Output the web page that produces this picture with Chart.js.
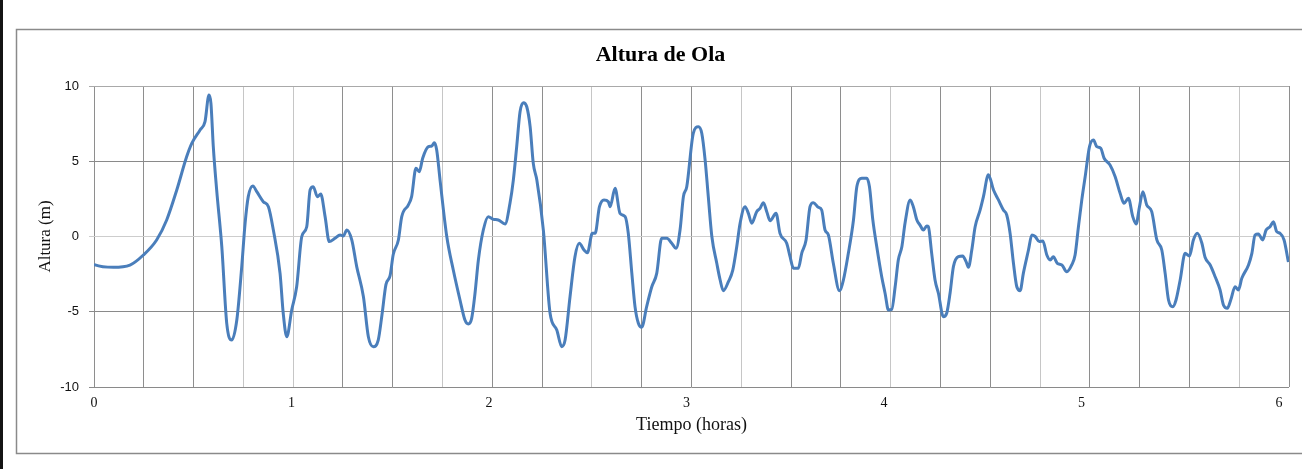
<!DOCTYPE html>
<html>
<head>
<meta charset="utf-8">
<script src="https://cdn.jsdelivr.net/npm/chart.js@4/dist/chart.umd.min.js"></script>
<style>
  html, body { margin: 0; padding: 0; background: #fff; overflow: hidden; }
</style>
</head>
<body>
<canvas id="chart" width="1302" height="469"></canvas>
<script>
const TITLE   = 'Altura de Ola';
const X_TITLE = 'Tiempo (horas)';
const Y_TITLE = 'Altura (m)';
const X_LABELS = [0, 1, 2, 3, 4, 5, 6];
const Y_TICKS  = [-10, -5, 0, 5, 10];
const X_MAX = 6.05;
const X_GRID_COUNT = 24;

// time (hours)
const HOURS = [
  0.000, 0.005, 0.098, 0.182, 0.250, 0.317, 0.368, 0.419, 0.469, 0.495, 0.537, 0.562, 0.582, 0.592, 0.604, 0.621,
  0.647, 0.672, 0.697, 0.723, 0.748, 0.765, 0.781, 0.804, 0.824, 0.857, 0.883, 0.908, 0.942, 0.958, 0.976, 1.001,
  1.026, 1.052, 1.077, 1.094, 1.110, 1.131, 1.148, 1.170, 1.191, 1.220, 1.246, 1.262, 1.280, 1.305, 1.330, 1.364,
  1.389, 1.414, 1.439, 1.458, 1.478, 1.499, 1.515, 1.541, 1.558, 1.591, 1.608, 1.630, 1.647, 1.664, 1.693, 1.710,
  1.723, 1.735, 1.752, 1.786, 1.819, 1.853, 1.878, 1.895, 1.912, 1.929, 1.946, 1.971, 1.996, 2.022, 2.047, 2.081,
  2.106, 2.123, 2.140, 2.157, 2.174, 2.191, 2.208, 2.224, 2.242, 2.275, 2.309, 2.343, 2.368, 2.385, 2.410, 2.435,
  2.457, 2.481, 2.498, 2.523, 2.537, 2.559, 2.582, 2.604, 2.613, 2.638, 2.663, 2.689, 2.705, 2.723, 2.739, 2.756,
  2.773, 2.798, 2.824, 2.849, 2.874, 2.900, 2.925, 2.947, 2.967, 2.984, 3.001, 3.034, 3.060, 3.077, 3.094, 3.110,
  3.128, 3.153, 3.170, 3.186, 3.212, 3.234, 3.254, 3.271, 3.296, 3.313, 3.330, 3.355, 3.372, 3.389, 3.406, 3.423,
  3.453, 3.473, 3.507, 3.524, 3.541, 3.566, 3.583, 3.605, 3.625, 3.642, 3.667, 3.684, 3.701, 3.718, 3.743, 3.774,
  3.794, 3.819, 3.845, 3.862, 3.887, 3.912, 3.926, 3.943, 3.963, 3.988, 4.005, 4.022, 4.039, 4.056, 4.072, 4.090,
  4.106, 4.132, 4.148, 4.166, 4.182, 4.199, 4.216, 4.224, 4.241, 4.258, 4.275, 4.300, 4.317, 4.334, 4.351, 4.376,
  4.398, 4.415, 4.427, 4.444, 4.461, 4.486, 4.503, 4.528, 4.554, 4.579, 4.604, 4.621, 4.638, 4.655, 4.672, 4.689,
  4.705, 4.731, 4.748, 4.765, 4.786, 4.804, 4.824, 4.841, 4.857, 4.877, 4.900, 4.925, 4.950, 4.967, 4.984, 5.001,
  5.018, 5.040, 5.060, 5.077, 5.097, 5.114, 5.144, 5.170, 5.195, 5.215, 5.237, 5.259, 5.276, 5.293, 5.310, 5.330,
  5.355, 5.381, 5.406, 5.423, 5.440, 5.462, 5.478, 5.499, 5.524, 5.546, 5.566, 5.586, 5.609, 5.625, 5.651, 5.676,
  5.701, 5.718, 5.738, 5.755, 5.777, 5.794, 5.811, 5.845, 5.862, 5.878, 5.895, 5.917, 5.934, 5.954, 5.971, 5.988,
  6.005, 6.025, 6.047
];

// wave height (m)
const ALTURA = [
  -1.85, -1.89, -2.05, -1.90, -1.23, -0.23, 1.10, 3.09, 5.30, 6.19, 7.08, 7.63, 9.40, 8.85, 5.97, 3.09,
  -0.68, -5.77, -6.88, -5.55, -2.00, 0.88, 2.65, 3.36, 2.98, 2.31, 1.98, 0.43, -2.45, -5.10, -6.66, -4.88,
  -3.34, 0.00, 0.65, 3.09, 3.31, 2.64, 2.82, 1.32, -0.34, -0.12, 0.10, 0.03, 0.43, -0.23, -2.00, -4.00,
  -6.66, -7.32, -6.88, -5.20, -3.20, -2.60, -1.20, -0.23, 1.32, 2.09, 2.65, 4.53, 4.31, 5.20, 5.97, 6.01,
  6.23, 5.75, 3.75, 0.00, -2.23, -4.22, -5.55, -5.81, -5.44, -3.77, -1.56, 0.43, 1.32, 1.14, 1.10, 0.83,
  2.21, 3.75, 5.97, 8.29, 8.89, 8.62, 7.30, 4.86, 3.75, 0.43, -5.10, -6.21, -7.32, -6.88, -4.00, -1.34,
  -0.45, -0.90, -1.08, 0.21, 0.21, 1.98, 2.43, 2.31, 1.98, 3.20, 1.54, 1.32, 0.21, -2.45, -4.66, -5.77,
  -6.03, -4.66, -3.34, -2.45, -0.12, -0.12, -0.45, -0.78, 0.43, 2.65, 3.31, 6.86, 7.30, 6.86, 5.08, 2.65,
  0.00, -1.78, -2.89, -3.60, -3.00, -2.23, -0.68, 0.88, 1.98, 1.54, 0.88, 1.65, 1.87, 2.25, 1.65, 1.05,
  1.54, 0.21, -0.45, -1.34, -2.11, -2.11, -1.12, -0.23, 1.98, 2.25, 1.94, 1.76, 0.43, 0.10, -1.78, -3.60,
  -2.89, -1.12, 1.10, 3.31, 3.87, 3.87, 3.31, 1.10, -0.68, -2.67, -3.77, -4.88, -4.84, -3.34, -1.56, -0.68,
  0.88, 2.43, 1.98, 1.10, 0.76, 0.43, 0.70, 0.65, -1.12, -2.89, -3.77, -5.33, -5.10, -3.77, -2.00, -1.34,
  -1.30, -1.67, -2.05, -0.90, 0.65, 1.75, 2.65, 4.10, 3.09, 2.43, 1.76, 1.43, 0.21, -1.78, -3.34, -3.60,
  -2.45, -0.90, 0.10, 0.00, -0.34, -0.30, -1.23, -1.56, -1.34, -1.78, -1.89, -2.34, -1.89, -1.23, 0.65, 2.43,
  3.97, 5.97, 6.41, 5.97, 5.86, 5.20, 4.75, 3.97, 2.87, 2.21, 2.54, 1.32, 0.83, 1.98, 2.98, 2.09,
  1.65, -0.23, -0.90, -2.45, -4.22, -4.66, -4.22, -2.89, -1.12, -1.30, -0.23, 0.21, -0.45, -1.38, -1.89, -2.67,
  -3.55, -4.55, -4.77, -4.22, -3.34, -3.55, -2.78, -1.89, -1.12, 0.10, 0.17, -0.23, 0.43, 0.65, 0.98, 0.32,
  0.21, -0.23, -1.70
];

// frame around the chart + dark strip at the left edge of the picture
const frame = {
  id: 'frame',
  beforeDraw(c) {
    const g = c.ctx;
    g.save();
    g.fillStyle = '#fff';
    g.fillRect(0, 0, c.width, c.height);
    g.strokeStyle = '#8a8a8a';
    g.lineWidth = 1.5;
    g.strokeRect(16.5, 29.5, 1320, 424);
    g.fillStyle = '#141414';
    g.fillRect(0, 0, 3, c.height);
    g.restore();
  }
};

const LIGHT_V = [3, 4, 7, 10, 13, 16, 19, 23];

new Chart(document.getElementById('chart'), {
  type: 'line',
  data: {
    datasets: [{
      data: HOURS.map((h, i) => ({ x: h, y: ALTURA[i] })),
      borderColor: '#4a7ebb',
      borderWidth: 3,
      pointRadius: 0,
      fill: false,
      cubicInterpolationMode: 'monotone',
    }],
  },
  options: {
    responsive: false,
    animation: false,
    layout: { padding: { left: 32, right: 13, top: 0, bottom: 0 } },
    plugins: {
      legend: { display: false },
      tooltip: { enabled: false },
      title: {
        display: true,
        text: TITLE,
        color: '#000',
        font: { family: 'Liberation Serif', size: 22, weight: 'bold' },
        padding: { top: 42, bottom: 17.6 },
      },
    },
    scales: {
      x: {
        type: 'linear', position: 'bottom', min: 0, max: X_MAX,
        afterBuildTicks: s => { s.ticks = X_LABELS.map(v => ({ value: v })); },
        afterFit: s => { s.height = 82; },
        grid: { display: false, drawTicks: false },
        border: { display: false },
        ticks: {
          color: '#111', padding: 8, maxRotation: 0, autoSkip: false,
          font: { family: 'Liberation Serif', size: 14 },
        },
        title: {
          display: true, text: X_TITLE, color: '#111',
          font: { family: 'Liberation Serif', size: 18 },
          padding: { top: 0, bottom: 33 },
        },
      },
      xg: {
        type: 'linear', position: 'bottom', min: 0, max: X_MAX,
        afterBuildTicks: s => {
          s.ticks = Array.from({ length: X_GRID_COUNT + 1 }, (_, k) => ({ value: k * X_MAX / X_GRID_COUNT }));
        },
        afterFit: s => { s.height = 0; },
        ticks: { display: false },
        border: { display: false },
        grid: {
          drawTicks: false,
          lineWidth: 1,
          color: ctx => LIGHT_V.includes(ctx.index) ? '#c6c6c6' : '#8e8e8e',
        },
      },
      y: {
        type: 'linear', min: -10, max: 10,
        afterBuildTicks: s => { s.ticks = Y_TICKS.map(v => ({ value: v })); },
        afterFit: s => { s.width = 62; },
        border: { display: false },
        grid: {
          tickLength: 5,
          lineWidth: 1,
          color: ctx => {
            const v = ctx.tick && ctx.tick.value;
            if (v === 0) return '#cdcdcd';
            if (v === 10) return '#a9a9a9';
            return '#8a8a8a';
          },
        },
        ticks: {
          color: '#111', padding: 10,
          font: { family: 'Liberation Sans', size: 13 },
        },
        title: {
          display: true, text: Y_TITLE, color: '#111',
          font: { family: 'Liberation Serif', size: 17 },
          padding: { top: 3, bottom: 0 },
        },
      },
    },
  },
  plugins: [frame],
});
</script>
</body>
</html>
